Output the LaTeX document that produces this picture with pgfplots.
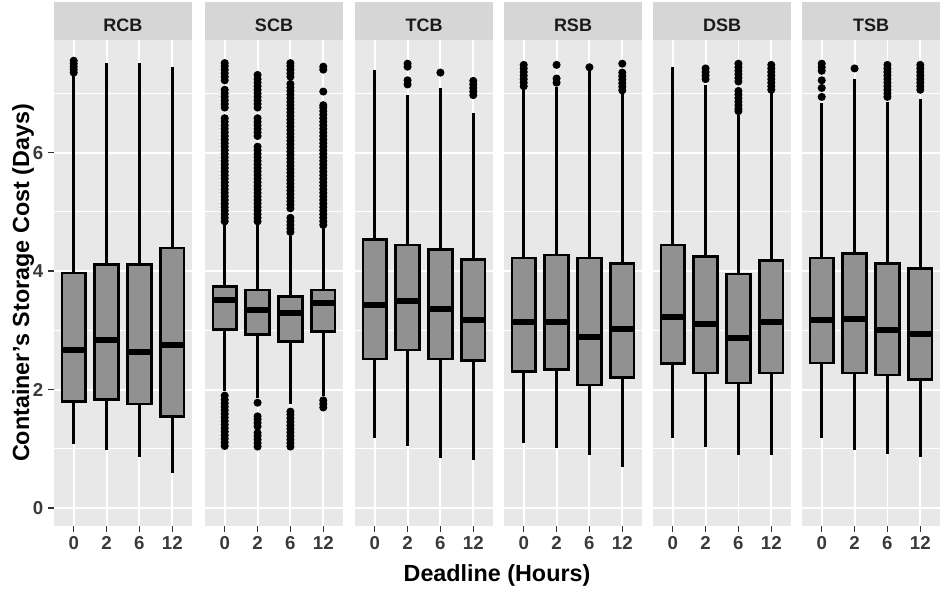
\documentclass[border=0pt]{standalone}
\usepackage{pgfplots}
\pgfplotsset{compat=1.18}
\usepgfplotslibrary{statistics}
\usepackage{fontspec}
\setmainfont{Liberation Sans}
\definecolor{panelbg}{HTML}{E8E8E8}
\definecolor{stripbg}{HTML}{D6D6D6}
\definecolor{boxfill}{HTML}{919191}
\definecolor{tickc}{HTML}{3A3A3A}
\definecolor{tickmark}{HTML}{333333}
\definecolor{stripc}{HTML}{1A1A1A}
\pgfplotsset{
 panel/.style={
   scale only axis, width=103.5pt, height=364.5pt, anchor=south west,
   xmin=0.4, xmax=4.6, ymin=-0.3, ymax=7.9,
   axis background/.style={fill=panelbg},
   axis line style={draw=none},
   xtick={1,2,3,4}, xticklabels={0,2,6,12},
   ytick={0,2,4,6}, minor ytick={1,3,5,7},
   grid=both,
   major grid style={white, line width=1.4pt},
   minor grid style={white, line width=0.7pt},
   tick align=outside, tick pos=left,
   major tick length=4.5pt, minor tick length=0pt,
   tick style={color=tickmark, line width=1.1pt},
   tick label style={font=\fontsize{14}{16}\selectfont\bfseries, text=tickc},
   clip=false,
   boxplot/draw direction=y,
   boxplot/box extend=0.72, boxplot/whisker extend=0,
   boxplot/every median/.style={line width=4.5pt},
   boxplot/every whisker/.style={line width=2pt},
   boxplot/every box/.style={line width=2pt},
 },
 noy/.style={yticklabels={}, ytick style={draw=none}},
 bx/.style={draw=black, fill=boxfill, line width=2pt, mark=*, mark size=2.6pt,
   mark options={draw=black, fill=black, line width=0.8pt}},
}
\newcommand{\strip}[1]{%
  \fill[stripbg] (rel axis cs:0,1) rectangle ([yshift=28.5pt]rel axis cs:1,1);
  \node[font=\fontsize{13.5}{15}\selectfont\bfseries, text=stripc] at ([yshift=11.25pt]rel axis cs:0.5,1) {#1};
}
\begin{document}
\begin{tikzpicture}
\useasboundingbox (0pt,0pt) rectangle (705.75pt,443.25pt);
% ---------------- RCB
\begin{axis}[panel, at={(40.5pt,48.75pt)}, yticklabels={0,2,4,6}]
\addplot[bx, boxplot prepared={draw position=1, lower whisker=1.09, lower quartile=1.80, median=2.67, upper quartile=3.97, upper whisker=7.30}]
 table[row sep=\\, y index=0]{v\\7.35\\7.40\\7.45\\7.50\\7.55\\};
\addplot[bx, boxplot prepared={draw position=2, lower whisker=0.99, lower quartile=1.83, median=2.84, upper quartile=4.11, upper whisker=7.51}] coordinates {};
\addplot[bx, boxplot prepared={draw position=3, lower whisker=0.87, lower quartile=1.76, median=2.64, upper quartile=4.11, upper whisker=7.51}] coordinates {};
\addplot[bx, boxplot prepared={draw position=4, lower whisker=0.60, lower quartile=1.55, median=2.76, upper quartile=4.39, upper whisker=7.45}] coordinates {};
\strip{RCB}
\end{axis}
% ---------------- SCB
\begin{axis}[panel, noy, at={(153.75pt,48.75pt)}]
\addplot[bx, boxplot prepared={draw position=1, lower whisker=1.97, lower quartile=3.01, median=3.52, upper quartile=3.74, upper whisker=4.78}]
 table[row sep=\\, y index=0]{v\\1.05\\1.11\\1.17\\1.23\\1.29\\1.35\\1.41\\1.47\\1.53\\1.59\\1.65\\1.71\\1.77\\1.83\\1.90\\
 4.84\\4.90\\4.96\\5.02\\5.08\\5.14\\5.20\\5.26\\5.32\\5.38\\5.44\\5.50\\5.56\\5.62\\5.68\\5.74\\5.80\\5.86\\5.92\\5.98\\6.04\\6.10\\6.16\\6.22\\6.28\\6.34\\6.40\\6.46\\6.52\\6.58\\
 6.76\\6.82\\6.88\\6.94\\7.00\\7.06\\7.22\\7.28\\7.34\\7.40\\7.46\\7.51\\};
\addplot[bx, boxplot prepared={draw position=2, lower whisker=1.86, lower quartile=2.93, median=3.35, upper quartile=3.68, upper whisker=4.78}]
 table[row sep=\\, y index=0]{v\\1.04\\1.10\\1.16\\1.22\\1.27\\1.38\\1.44\\1.50\\1.55\\1.78\\
 4.84\\4.90\\4.96\\5.02\\5.08\\5.14\\5.20\\5.26\\5.32\\5.38\\5.44\\5.50\\5.56\\5.62\\5.68\\5.74\\5.80\\5.86\\5.92\\5.98\\6.04\\6.10\\
 6.28\\6.34\\6.40\\6.46\\6.52\\6.58\\6.76\\6.82\\6.88\\6.94\\7.00\\7.06\\7.12\\7.18\\7.24\\7.31\\};
\addplot[bx, boxplot prepared={draw position=3, lower whisker=1.75, lower quartile=2.81, median=3.30, upper quartile=3.57, upper whisker=4.60}]
 table[row sep=\\, y index=0]{v\\1.04\\1.10\\1.16\\1.22\\1.28\\1.34\\1.40\\1.46\\1.52\\1.58\\1.63\\
 4.66\\4.72\\4.78\\4.84\\4.90\\5.06\\5.12\\5.18\\5.24\\5.30\\5.36\\5.42\\5.48\\5.54\\5.60\\5.66\\5.72\\5.78\\5.84\\5.90\\5.96\\6.02\\6.08\\6.14\\6.20\\6.26\\6.32\\6.38\\6.44\\6.50\\6.56\\6.62\\6.68\\6.74\\6.80\\6.86\\6.92\\6.98\\7.04\\7.10\\7.16\\7.28\\7.34\\7.40\\7.46\\7.51\\};
\addplot[bx, boxplot prepared={draw position=4, lower whisker=1.90, lower quartile=2.98, median=3.47, upper quartile=3.68, upper whisker=4.72}]
 table[row sep=\\, y index=0]{v\\1.70\\1.76\\1.82\\
 4.78\\4.84\\4.90\\4.96\\5.02\\5.08\\5.14\\5.20\\5.26\\5.32\\5.38\\5.44\\5.50\\5.56\\5.62\\5.68\\5.74\\5.80\\5.86\\5.92\\5.98\\6.04\\6.10\\6.16\\6.22\\6.28\\6.34\\6.40\\6.46\\6.52\\6.58\\6.64\\6.70\\6.76\\6.80\\7.03\\7.40\\7.45\\};
\strip{SCB}
\end{axis}
% ---------------- TCB
\begin{axis}[panel, noy, at={(266.25pt,48.75pt)}]
\addplot[bx, boxplot prepared={draw position=1, lower whisker=1.18, lower quartile=2.52, median=3.43, upper quartile=4.53, upper whisker=7.39}] coordinates {};
\addplot[bx, boxplot prepared={draw position=2, lower whisker=1.05, lower quartile=2.67, median=3.49, upper quartile=4.44, upper whisker=6.97}]
 table[row sep=\\, y index=0]{v\\7.15\\7.22\\7.45\\7.50\\};
\addplot[bx, boxplot prepared={draw position=3, lower whisker=0.85, lower quartile=2.52, median=3.36, upper quartile=4.36, upper whisker=7.09}]
 table[row sep=\\, y index=0]{v\\7.35\\};
\addplot[bx, boxplot prepared={draw position=4, lower whisker=0.82, lower quartile=2.49, median=3.17, upper quartile=4.20, upper whisker=6.66}]
 table[row sep=\\, y index=0]{v\\6.97\\7.03\\7.09\\7.15\\7.21\\};
\strip{TCB}
\end{axis}
% ---------------- RSB
\begin{axis}[panel, noy, at={(378pt,48.75pt)}]
\addplot[bx, boxplot prepared={draw position=1, lower whisker=1.10, lower quartile=2.31, median=3.14, upper quartile=4.22, upper whisker=7.06}]
 table[row sep=\\, y index=0]{v\\7.12\\7.18\\7.24\\7.30\\7.36\\7.42\\7.48\\};
\addplot[bx, boxplot prepared={draw position=2, lower whisker=1.02, lower quartile=2.34, median=3.14, upper quartile=4.27, upper whisker=7.10}]
 table[row sep=\\, y index=0]{v\\7.18\\7.25\\7.48\\};
\addplot[bx, boxplot prepared={draw position=3, lower whisker=0.89, lower quartile=2.08, median=2.89, upper quartile=4.22, upper whisker=7.38}]
 table[row sep=\\, y index=0]{v\\7.44\\};
\addplot[bx, boxplot prepared={draw position=4, lower whisker=0.70, lower quartile=2.21, median=3.03, upper quartile=4.13, upper whisker=7.00}]
 table[row sep=\\, y index=0]{v\\7.05\\7.11\\7.17\\7.23\\7.29\\7.35\\7.50\\};
\strip{RSB}
\end{axis}
% ---------------- DSB
\begin{axis}[panel, noy, at={(489.75pt,48.75pt)}]
\addplot[bx, boxplot prepared={draw position=1, lower whisker=1.18, lower quartile=2.44, median=3.22, upper quartile=4.44, upper whisker=7.45}] coordinates {};
\addplot[bx, boxplot prepared={draw position=2, lower whisker=1.03, lower quartile=2.28, median=3.11, upper quartile=4.25, upper whisker=7.14}]
 table[row sep=\\, y index=0]{v\\7.24\\7.30\\7.36\\7.42\\};
\addplot[bx, boxplot prepared={draw position=3, lower whisker=0.90, lower quartile=2.11, median=2.87, upper quartile=3.95, upper whisker=6.64}]
 table[row sep=\\, y index=0]{v\\6.70\\6.74\\6.80\\6.86\\6.92\\6.98\\7.04\\7.20\\7.26\\7.32\\7.38\\7.44\\7.50\\};
\addplot[bx, boxplot prepared={draw position=4, lower whisker=0.89, lower quartile=2.28, median=3.14, upper quartile=4.18, upper whisker=7.00}]
 table[row sep=\\, y index=0]{v\\7.06\\7.12\\7.18\\7.24\\7.30\\7.36\\7.42\\7.48\\};
\strip{DSB}
\end{axis}
% ---------------- TSB
\begin{axis}[panel, noy, at={(601.5pt,48.75pt)}]
\addplot[bx, boxplot prepared={draw position=1, lower whisker=1.18, lower quartile=2.45, median=3.17, upper quartile=4.22, upper whisker=6.83}]
 table[row sep=\\, y index=0]{v\\6.94\\7.09\\7.22\\7.38\\7.44\\7.50\\};
\addplot[bx, boxplot prepared={draw position=2, lower whisker=0.99, lower quartile=2.28, median=3.19, upper quartile=4.30, upper whisker=7.25}]
 table[row sep=\\, y index=0]{v\\7.42\\};
\addplot[bx, boxplot prepared={draw position=3, lower whisker=0.92, lower quartile=2.25, median=3.00, upper quartile=4.13, upper whisker=6.86}]
 table[row sep=\\, y index=0]{v\\6.94\\7.00\\7.06\\7.12\\7.18\\7.24\\7.30\\7.36\\7.42\\7.48\\};
\addplot[bx, boxplot prepared={draw position=4, lower whisker=0.87, lower quartile=2.17, median=2.94, upper quartile=4.05, upper whisker=6.90}]
 table[row sep=\\, y index=0]{v\\7.06\\7.12\\7.18\\7.24\\7.30\\7.36\\7.42\\7.48\\};
\strip{TSB}
\end{axis}
% axis titles
\node[anchor=base, font=\fontsize{17.5}{20}\selectfont\bfseries] at (372.75pt,6.75pt) {Deadline (Hours)};
\node[anchor=base, rotate=90, font=\fontsize{17.5}{20}\selectfont\bfseries] at (21.75pt,231pt) {Container's Storage Cost (Days)};
\end{tikzpicture}
\end{document}
